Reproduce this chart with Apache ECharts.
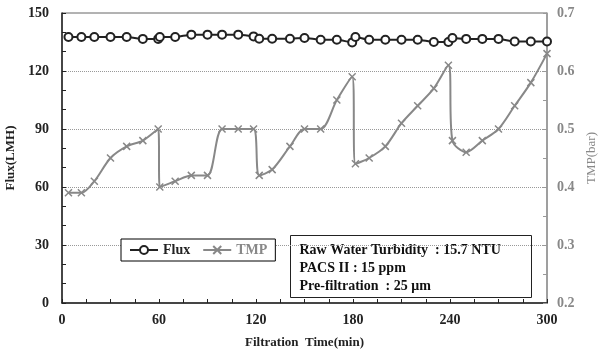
<!DOCTYPE html>
<html>
<head>
<meta charset="utf-8">
<script src="https://cdn.jsdelivr.net/npm/echarts@6/dist/echarts.min.js"></script>
<style>
  html, body { margin: 0; padding: 0; background: #fff; }
  #chart { width: 599px; height: 357px; }
</style>
</head>
<body>
<div id="chart"></div>
<script>
const times = [4, 12, 20, 30, 40, 50, 59.5, 60.5, 70, 80, 90, 99, 109, 118.5, 122, 130, 141, 150, 160, 170,
  179.5, 181.5, 190, 200, 210, 220, 230, 239, 241.5, 250, 260, 270, 280, 290, 300];
const flux = [137.6, 137.6, 137.6, 137.6, 137.6, 136.6, 136.6, 137.6, 137.6, 138.8, 138.8, 138.8, 138.8, 137.9,
  136.7, 136.7, 136.7, 137.1, 136.2, 136.2, 134.8, 137.6, 136.2, 136.2, 136.2, 136.2, 135, 135, 137.1, 136.6,
  136.6, 136.6, 135.3, 135.3, 135.3];
const tmp = [0.39, 0.39, 0.41, 0.45, 0.47, 0.48, 0.50, 0.40, 0.41, 0.42, 0.42, 0.50, 0.50, 0.50, 0.42, 0.43,
  0.47, 0.50, 0.50, 0.55, 0.59, 0.44, 0.45, 0.47, 0.51, 0.54, 0.57, 0.61, 0.48, 0.46, 0.48, 0.50, 0.54, 0.58, 0.63];
const noteLines = ["Raw Water Turbidity  : 15.7 NTU", "PACS II : 15 ppm", "Pre-filtration  : 25 \u03bcm"];

const serif = "Liberation Serif";
const dark = "#222";
const gray = "#888";

const chart = echarts.init(document.getElementById("chart"));

chart.setOption({
  animation: false,
  backgroundColor: "#fff",
  grid: { left: 62, right: 52, top: 13, bottom: 54, outerBoundsMode: "none", containLabel: false,
    show: true, borderColor: "#666", borderWidth: 1 },
  legend: {
    left: 121, top: 239,
    padding: [4, 8, 4, 8],
    itemWidth: 28, itemHeight: 10, itemGap: 12,
    borderColor: "#000", borderWidth: 1, backgroundColor: "#fff",
    data: [
      { name: "Flux", textStyle: { color: dark } },
      { name: "TMP", textStyle: { color: gray } }
    ],
    textStyle: { fontFamily: serif, fontWeight: "bold", fontSize: 14 }
  },
  xAxis: {
    type: "value", min: 0, max: 300, interval: 60,
    name: "Filtration  Time(min)", nameLocation: "middle", nameGap: 33,
    nameTextStyle: { fontFamily: serif, fontWeight: "bold", fontSize: 13, color: dark },
    axisLine: { lineStyle: { color: dark, width: 1.5 } },
    axisTick: { inside: true, length: 4, lineStyle: { color: dark } },
    minorTick: { show: true, splitNumber: 4, length: 4, lineStyle: { color: dark } },
    axisLabel: { fontFamily: serif, fontWeight: "bold", fontSize: 14, color: dark, margin: 10 },
    splitLine: { show: false }
  },
  yAxis: [
    {
      type: "value", min: 0, max: 150, interval: 30,
      name: "Flux(LMH)", nameLocation: "middle", nameGap: 43, nameRotate: 90,
      nameTextStyle: { fontFamily: serif, fontWeight: "bold", fontSize: 13, color: dark },
      axisLine: { show: true, lineStyle: { color: dark, width: 1.5 } },
      axisTick: { inside: true, length: 4, lineStyle: { color: dark } },
      minorTick: { show: true, splitNumber: 3, length: 4, lineStyle: { color: dark } },
      axisLabel: { fontFamily: serif, fontWeight: "bold", fontSize: 14, color: dark, margin: 13 },
      splitLine: { show: true, showMinLine: false, showMaxLine: false, lineStyle: { color: "#999", type: "dotted" } }
    },
    {
      type: "value", min: 0.2, max: 0.7, interval: 0.1,
      name: "TMP(bar)", nameLocation: "middle", nameGap: 38, nameRotate: 90,
      nameTextStyle: { fontFamily: serif, fontSize: 13, color: gray },
      axisLine: { show: true, lineStyle: { color: "#999", width: 1.5 } },
      axisTick: { inside: true, length: 4, lineStyle: { color: "#999" } },
      minorTick: { show: true, splitNumber: 2, length: 4, lineStyle: { color: "#999" } },
      axisLabel: { fontFamily: serif, fontWeight: "bold", fontSize: 14, color: gray, margin: 10,
        formatter: v => v.toFixed(1) },
      splitLine: { show: false }
    }
  ],
  series: [
    {
      name: "TMP", type: "line", yAxisIndex: 1,
      data: times.map((t, i) => [t, tmp[i]]),
      smooth: 0.3,
      symbol: "path://M0,0L10,10M10,0L0,10", symbolSize: 7,
      lineStyle: { color: gray, width: 2 },
      itemStyle: { color: gray, borderColor: gray, borderWidth: 1.5 },
      z: 2
    },
    {
      name: "Flux", type: "line", yAxisIndex: 0,
      data: times.map((t, i) => [t, flux[i]]),
      smooth: 0.3,
      symbol: "emptyCircle", symbolSize: 8,
      lineStyle: { color: dark, width: 2 },
      itemStyle: { color: dark, borderColor: dark, borderWidth: 2 },
      z: 3
    }
  ],
  graphic: [
    {
      type: "group", left: 290, top: 235,
      children: [
        { type: "rect", shape: { x: 0, y: 0, width: 241, height: 62 },
          style: { fill: "#fff", stroke: "#222", lineWidth: 1 } },
        ...noteLines.map((s, i) => ({
          type: "text", left: 9, top: 8 + i * 18,
          style: { text: s, fontFamily: serif, fontWeight: "bold", fontSize: 14, fill: "#111" }
        }))
      ]
    }
  ]
});
</script>
</body>
</html>
